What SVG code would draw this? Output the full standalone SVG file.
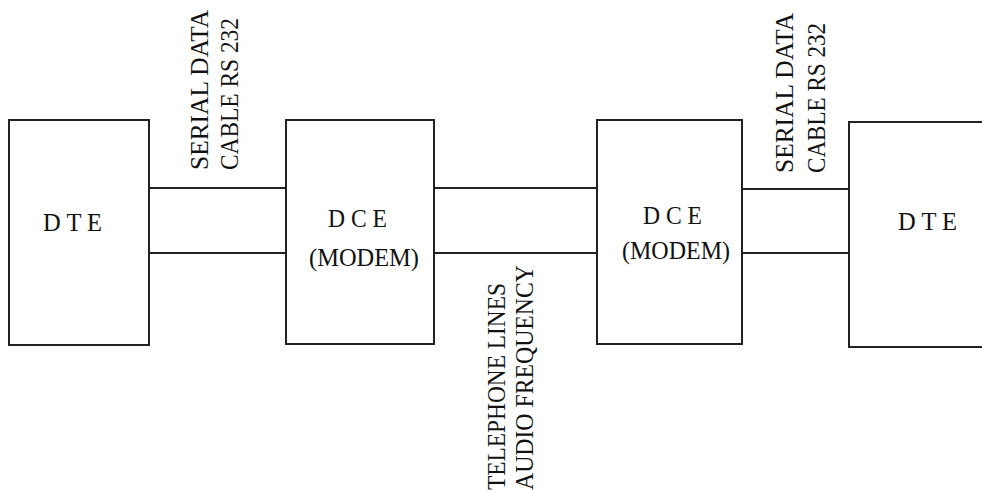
<svg xmlns="http://www.w3.org/2000/svg" width="982" height="493" viewBox="0 0 982 493">
<style>
.box{fill:#fff;stroke:#222;stroke-width:2}
.ln{stroke:#222;stroke-width:2;fill:none}
.t{font-family:'Liberation Serif','DejaVu Serif',serif;font-size:25px;fill:#111}
</style>
<rect width="982" height="493" fill="#fff"/>
<g id="connectors">
<line class="ln" x1="149" y1="188" x2="286" y2="188"/>
<line class="ln" x1="149" y1="253" x2="286" y2="253"/>
<line class="ln" x1="434" y1="188" x2="598" y2="188"/>
<line class="ln" x1="434" y1="253" x2="598" y2="253"/>
<line class="ln" x1="740" y1="189" x2="849" y2="189"/>
<line class="ln" x1="740" y1="253" x2="849" y2="253"/>
</g>
<g id="dte-left">
<rect class="box" x="9" y="120" width="140" height="225"/>
<text class="t" x="43" y="231" textLength="59" lengthAdjust="spacingAndGlyphs">D T E</text>
</g>
<g id="dce-left">
<rect class="box" x="286" y="120" width="148" height="224"/>
<text class="t" x="328" y="227" textLength="59" lengthAdjust="spacingAndGlyphs">D C E</text>
<text class="t" x="309" y="266" textLength="110" lengthAdjust="spacingAndGlyphs">(MODEM)</text>
</g>
<g id="dce-right">
<rect class="box" x="597" y="120" width="145" height="224"/>
<text class="t" x="643" y="224" textLength="59" lengthAdjust="spacingAndGlyphs">D C E</text>
<text class="t" x="622" y="259" textLength="108" lengthAdjust="spacingAndGlyphs">(MODEM)</text>
</g>
<g id="dte-right">
<rect class="box" x="849" y="122" width="200" height="225"/>
<text class="t" x="898" y="230" textLength="59" lengthAdjust="spacingAndGlyphs">D T E</text>
</g>
<g id="label-serial-left">
<text class="t" transform="translate(208,170) rotate(-90)" textLength="160" lengthAdjust="spacingAndGlyphs">SERIAL DATA</text>
<text class="t" transform="translate(238,170) rotate(-90)" textLength="152" lengthAdjust="spacingAndGlyphs">CABLE RS 232</text>
</g>
<g id="label-serial-right">
<text class="t" transform="translate(793,173) rotate(-90)" textLength="160" lengthAdjust="spacingAndGlyphs">SERIAL DATA</text>
<text class="t" transform="translate(825,173) rotate(-90)" textLength="150" lengthAdjust="spacingAndGlyphs">CABLE RS 232</text>
</g>
<g id="label-telephone">
<text class="t" transform="translate(505,490) rotate(-90)" textLength="207" lengthAdjust="spacingAndGlyphs">TELEPHONE LINES</text>
<text class="t" transform="translate(533,490) rotate(-90)" textLength="225" lengthAdjust="spacingAndGlyphs">AUDIO FREQUENCY</text>
</g>
</svg>
